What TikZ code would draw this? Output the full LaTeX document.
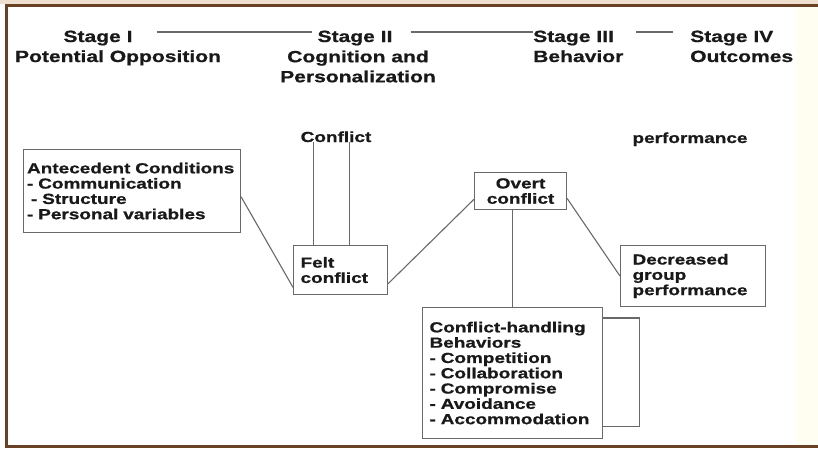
\documentclass[tikz,border=0pt]{standalone}
\usepackage{fontspec}
\setmainfont{Liberation Sans}[FakeStretch=1.3, BoldFeatures={FakeBold=0.8}]
\usetikzlibrary{positioning}
\hyphenpenalty=10000
\definecolor{framebrown}{RGB}{105,66,38}
\definecolor{linegray}{RGB}{105,105,105}
\definecolor{inkgray}{RGB}{25,25,25}
\tikzset{
    stage/.style={inner sep=0pt, text=inkgray, font=\bfseries\fontsize{16.2}{20}\selectfont},
    sbox/.style={draw=linegray, line width=1.1pt, anchor=north west, align=left, inner ysep=0pt,
        text=inkgray, font=\bfseries\fontsize{14.6}{15.3}\selectfont},
    lbl/.style={inner sep=0pt, anchor=base, text=inkgray, font=\bfseries\fontsize{14.6}{15.3}\selectfont},
    hline/.style={draw=linegray, line width=1.4pt}
}
\begin{document}
\begin{tikzpicture}[x=1pt, y=-1pt, every edge/.style={draw=linegray, line width=1.1pt}]
    \useasboundingbox (0,0) rectangle (818,448);
    \fill[white] (0,0) rectangle (818,448);
    \fill[brown!25] (0,0) rectangle (818,4);
    \fill[yellow!6] (796,6) rectangle (818,445);
    \draw[framebrown, line width=3pt] (6,448) -- (6,5.5) -- (818,5.5);
    \draw[framebrown, line width=3pt] (6,446.5) -- (818,446.5);

    \node[stage, anchor=base] (stage1) at (98,42) {Stage I};
    \node[stage, anchor=base] (stage2) at (355,42) {Stage II};
    \node[stage, anchor=base west] (stage3) at (533,42) {Stage III};
    \node[stage, anchor=base west] (stage4) at (690,42) {Stage IV};
    \node[stage, anchor=base] (sub1) at (118,62) {Potential Opposition};
    \node[stage, anchor=north, align=center] (sub2) at (358,50.3) {Cognition and\\Personalization};
    \node[stage, anchor=base west] (sub3) at (533,62) {Behavior};
    \node[stage, anchor=base west] (sub4) at (690,62) {Outcomes};

    \node[sbox, text width=210pt, inner xsep=3.5pt, minimum height=83pt] (ante) at (23,149)
        {Antecedent Conditions\\- Communication\\\hspace{4pt}- Structure\\- Personal variables};
    \node[sbox, text width=80pt, inner xsep=7pt, minimum height=49pt] (felt) at (293,245)
        {Felt\\conflict};
    \node[sbox, align=center, text width=78pt, inner xsep=7pt, minimum height=37pt] (overt) at (474,172)
        {Overt\\conflict};
    \node[sbox, text width=121pt, inner xsep=12pt, minimum height=61pt] (decr) at (620,245)
        {Decreased\\group\\performance};
    \node[sbox, text width=166pt, inner xsep=7pt, minimum height=131pt] (handling) at (422,307)
        {Conflict-handling\\Behaviors\\- Competition\\- Collaboration\\- Compromise\\- Avoidance\\- Accommodation};
    \node[lbl] (conflict) at (336,142) {Conflict};
    \node[lbl] (perf) at (690,143) {performance};

    \path ([yshift=10pt]stage1.base east) edge[hline, shorten <=24pt, shorten >=5pt] ([yshift=10pt]stage2.base west)
          ([yshift=10pt]stage2.base east) edge[hline, shorten <=18pt] ([yshift=10pt]stage3.base west)
          ([yshift=10pt]stage3.base east) edge[hline, shorten <=22pt, shorten >=17pt] ([yshift=10pt]stage4.base west);
    \path ([xshift=-27pt]felt.north) edge ([xshift=-27pt]felt.north |- conflict.south)
          ([xshift=9pt]felt.north) edge ([xshift=9pt]felt.north |- conflict.south)
          (ante.-3) edge (felt.200)
          (felt.-16) edge (overt.190)
          (overt.-9) edge (decr.west)
          (handling.north |- overt.south) edge (handling.north);
    \draw[linegray, line width=1.1pt] ([yshift=-11pt]handling.north east) -- ++(36,0) |- ([yshift=13pt]handling.south east);
\end{tikzpicture}
\end{document}
